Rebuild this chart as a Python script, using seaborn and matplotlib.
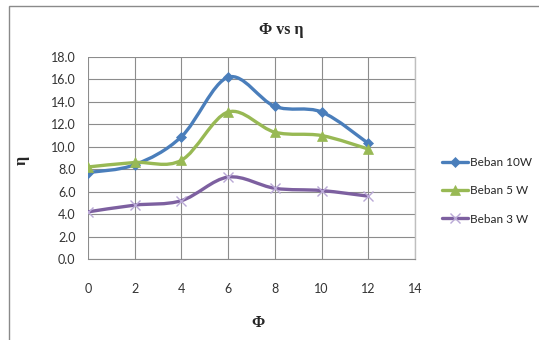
import numpy as np
import pandas as pd
import matplotlib
matplotlib.use("Agg")
import matplotlib.pyplot as plt
from matplotlib.path import Path
from matplotlib.patches import PathPatch, Rectangle
from matplotlib.lines import Line2D
import seaborn as sns

phi = [0, 2, 4, 6, 8, 10, 12]
beban_10w = [7.7, 8.4, 10.9, 16.2, 13.6, 13.1, 10.3]
beban_5w = [8.2, 8.6, 8.8, 13.1, 11.3, 11.0, 9.8]
beban_3w = [4.2, 4.8, 5.2, 7.3, 6.3, 6.1, 5.6]
series_names = ["Beban 10W", "Beban 5 W", "Beban 3 W"]
x_ticks = [0, 2, 4, 6, 8, 10, 12, 14]
y_ticks = [0, 2, 4, 6, 8, 10, 12, 14, 16, 18]

df = pd.DataFrame({
    "phi": phi * 3,
    "eta": beban_10w + beban_5w + beban_3w,
    "series": sum([[n] * len(phi) for n in series_names], []),
})

sns.set_style("white")
plt.rcParams["font.family"] = ["Lato", "DejaVu Sans"]

fig = plt.figure(figsize=(5.39, 3.40), dpi=100)
ax = fig.add_axes([88 / 539, 1 - 259 / 340, (415 - 88) / 539, (259 - 57) / 340])

colors = {"Beban 10W": "#4A7EBB", "Beban 5 W": "#98B954", "Beban 3 W": "#7D60A0"}
marker_style = {
    "Beban 10W": dict(marker="D", ms=5, mfc="#4A7EBB", mec="#4A7EBB", mew=0.5),
    "Beban 5 W": dict(marker="^", ms=7, mfc="#98B954", mec="#98B954", mew=0.5),
    "Beban 3 W": dict(marker="x", ms=7, mfc="none", mec="#B9A8D6", mew=1.0),
}


def smooth_path(xs, ys):
    pts = np.column_stack([xs, ys]).astype(float)
    n = len(pts)
    verts = [pts[0]]
    codes = [Path.MOVETO]
    for i in range(n - 1):
        p0 = pts[i - 1] if i > 0 else pts[i]
        p1 = pts[i]
        p2 = pts[i + 1]
        p3 = pts[i + 2] if i + 2 < n else pts[i + 1]
        c1 = p1 + (p2 - p0) / 6.0
        c2 = p2 - (p3 - p1) / 6.0
        verts += [c1, c2, p2]
        codes += [Path.CURVE4] * 3
    return Path(verts, codes)


for name in series_names:
    sub = df[df.series == name]
    patch = PathPatch(smooth_path(sub.phi.values, sub.eta.values), facecolor="none",
                      edgecolor=colors[name], lw=2.4, zorder=3, capstyle="round",
                      joinstyle="round")
    ax.add_patch(patch)

for name in series_names:
    sub = df[df.series == name]
    ms = marker_style[name]
    sns.lineplot(data=sub, x="phi", y="eta", ax=ax, linestyle="", marker=ms["marker"],
                 markersize=ms["ms"], markerfacecolor=ms["mfc"],
                 markeredgecolor=ms["mec"], markeredgewidth=ms["mew"],
                 color=colors[name], zorder=4, legend=False)

ax.set_xlim(0, 14)
ax.set_ylim(0, 18)
ax.set_xticks(x_ticks)
ax.set_yticks(y_ticks)
ax.set_yticklabels([f"{v:.1f}" for v in y_ticks])
ax.grid(True, color="#8C8C8C", lw=0.8)
ax.set_axisbelow(True)
for side in ["top", "left"]:
    ax.spines[side].set_visible(False)
ax.spines["bottom"].set_color("#8C8C8C")
ax.spines["bottom"].set_linewidth(0.8)
ax.spines["right"].set_color("#BFBFBF")
ax.spines["right"].set_linewidth(1.0)
ax.tick_params(axis="both", length=0, labelsize=9, labelcolor="#333333")
ax.tick_params(axis="x", pad=17)
ax.tick_params(axis="y", pad=9)
ax.set_xlabel("")
ax.set_ylabel("")

serif = ["Liberation Serif", "DejaVu Serif"]
fig.text(281 / 539, 1 - 30 / 340, "Φ vs η", ha="center", va="center",
         fontsize=11.5, fontweight="bold", family=serif)
fig.text(258 / 539, 1 - 323 / 340, "Φ", ha="center", va="center",
         fontsize=11.5, fontweight="bold", family=serif)
fig.text(22 / 539, 1 - 160 / 340, "η", ha="center", va="center", rotation=90,
         fontsize=11.5, fontweight="bold", family=serif)

handles = []
for name in series_names:
    ms = marker_style[name]
    handles.append(Line2D([0], [0], color=colors[name], lw=2.4, marker=ms["marker"],
                          markersize=ms["ms"], markerfacecolor=ms["mfc"],
                          markeredgecolor=ms["mec"], markeredgewidth=ms["mew"]))
fig.legend(handles, series_names, loc="center left",
           bbox_to_anchor=(442 / 539, 1 - 191 / 340), frameon=False,
           fontsize=8.5, handlelength=2.2, handletextpad=0.2, labelspacing=1.45,
           borderaxespad=0, borderpad=0)

fig.patches.append(Rectangle((9 / 539, -0.1), 1.2, 1 - 6 / 340 + 0.1,
                             transform=fig.transFigure, fill=False,
                             edgecolor="#8A8A8A", lw=1.0))

fig.savefig("out.png", dpi=100)
